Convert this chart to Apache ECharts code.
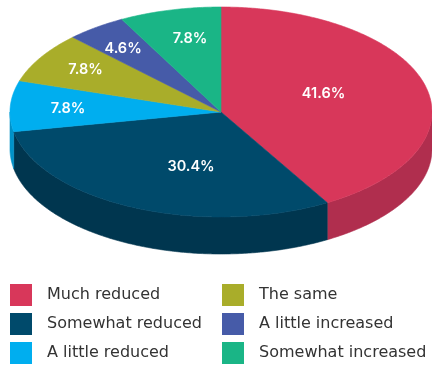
<!DOCTYPE html>
<html><head><meta charset="utf-8">
<script src="https://cdn.jsdelivr.net/npm/echarts@6/dist/echarts.min.js"></script>
<style>html,body{margin:0;padding:0;background:#fff}#chart{width:432px;height:367px}</style>
</head><body><div id="chart"></div>
<script>
// Responses, in clockwise order from 12 o'clock
const categories = ['Much reduced', 'Somewhat reduced', 'A little reduced', 'The same', 'A little increased', 'Somewhat increased'];
const shares = [41.6, 30.4, 7.8, 7.8, 4.6, 7.8];

// Colours of the top faces and of the darker side walls
const topColors = ['#D8375A', '#004A6B', '#00AEEF', '#A9AD2A', '#465BA8', '#1AB586'];
const sideColors = ['#B02E4E', '#00364F', '#0092C8', '#8A8E22', '#384A8A', '#14946D'];

// Where each percentage sits, as fractions of the top-face radii from the pie centre
const labelAnchors = [[0.486, -0.171], [-0.142, 0.524], [-0.725, -0.033], [-0.642, -0.400], [-0.464, -0.600], [-0.147, -0.695]];

// Tilted-disc geometry
const disc = { cx: 221, cy: 112, rx: 211, ry: 105, depth: 37 };

const total = shares.reduce((a, b) => a + b, 0);
const starts = [];
shares.reduce((acc, v, i) => { starts[i] = acc; return acc + v; }, 0);

function pt(a, dy) {
  return [disc.cx + disc.rx * Math.sin(a), disc.cy - disc.ry * Math.cos(a) + (dy || 0)];
}
function arc(a0, a1, dy) {
  const n = Math.max(2, Math.ceil((a1 - a0) / 0.01));
  const out = [];
  for (let k = 0; k <= n; k++) out.push(pt(a0 + (a1 - a0) * k / n, dy));
  return out;
}

function makeRender(i) {
  return function (params, api) {
    const value = api.value(0);
    const a0 = starts[i] / total * Math.PI * 2;
    const a1 = a0 + value / total * Math.PI * 2;
    const children = [];
    // visible front wall: the part of the rim facing the viewer
    const lo = Math.max(a0, Math.PI / 2), hi = Math.min(a1, Math.PI * 1.5);
    if (hi > lo) {
      const top = arc(lo, hi, 0);
      const bottom = arc(lo, hi, disc.depth).reverse();
      children.push({
        type: 'polygon', z2: 10,
        shape: { points: top.concat(bottom) },
        style: { fill: sideColors[i], stroke: sideColors[i], lineWidth: 0.6 }
      });
    }
    // top face
    children.push({
      type: 'polygon', z2: 50,
      shape: { points: [[disc.cx, disc.cy]].concat(arc(a0, a1, 0)) },
      style: { fill: topColors[i], stroke: topColors[i], lineWidth: 0.6 }
    });
    // value label
    const la = labelAnchors[i];
    children.push({
      type: 'text', z2: 100,
      style: {
        text: value.toFixed(1) + '%',
        x: disc.cx + la[0] * disc.rx, y: disc.cy + la[1] * disc.ry,
        fill: '#ffffff', fontSize: 14.5, fontWeight: 600, fontFamily: 'Inter, sans-serif',
        align: 'center', verticalAlign: 'middle'
      }
    });
    return { type: 'group', children };
  };
}

const series = categories.map((name, i) => ({
  type: 'custom', name, coordinateSystem: 'none',
  itemStyle: { color: topColors[i] },
  data: [shares[i]],
  renderItem: makeRender(i)
}));

const legendBase = {
  orient: 'vertical', icon: 'rect', itemWidth: 22, itemHeight: 22, itemGap: 7,
  selectedMode: false, padding: 0,
  textStyle: { fontSize: 16, color: '#333333', fontWeight: 'normal', fontFamily: '"DejaVu Sans", sans-serif', padding: [0, 0, 0, 10] }
};

const chart = echarts.init(document.getElementById('chart'));
chart.setOption({
  animation: false,
  legend: [
    Object.assign({}, legendBase, { left: 10, top: 284, data: categories.slice(0, 3) }),
    Object.assign({}, legendBase, { left: 222, top: 284, data: categories.slice(3) })
  ],
  series
});
</script>
</body></html>
